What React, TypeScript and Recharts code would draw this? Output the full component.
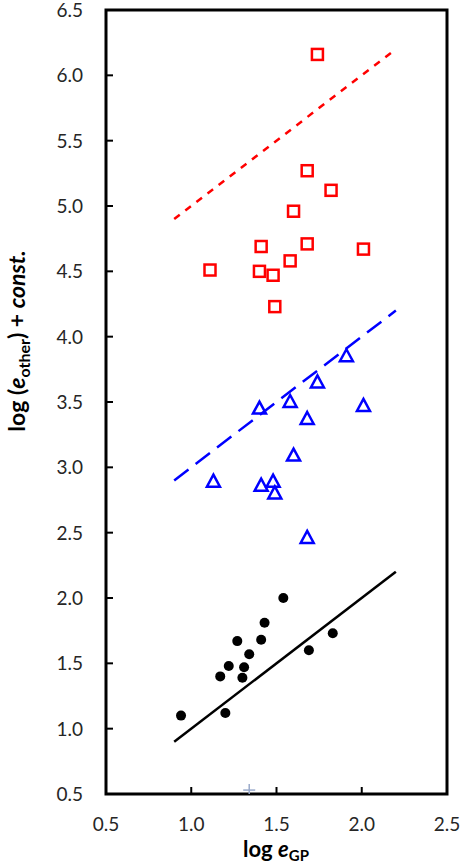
import React from "react";
import {
  ScatterChart,
  Scatter,
  XAxis,
  YAxis,
  ReferenceArea,
  Label,
} from "recharts";

// marker data
const circlePts = [
  { x: 0.94, y: 1.1 },
  { x: 1.2, y: 1.12 },
  { x: 1.17, y: 1.4 },
  { x: 1.22, y: 1.48 },
  { x: 1.27, y: 1.67 },
  { x: 1.3, y: 1.39 },
  { x: 1.31, y: 1.47 },
  { x: 1.34, y: 1.57 },
  { x: 1.41, y: 1.68 },
  { x: 1.43, y: 1.81 },
  { x: 1.54, y: 2.0 },
  { x: 1.69, y: 1.6 },
  { x: 1.83, y: 1.73 },
];

const trianglePts = [
  { x: 1.91, y: 3.85 },
  { x: 1.74, y: 3.65 },
  { x: 1.58, y: 3.5 },
  { x: 1.4, y: 3.45 },
  { x: 2.01, y: 3.47 },
  { x: 1.68, y: 3.37 },
  { x: 1.6, y: 3.09 },
  { x: 1.13, y: 2.89 },
  { x: 1.41, y: 2.86 },
  { x: 1.48, y: 2.89 },
  { x: 1.49, y: 2.8 },
  { x: 1.68, y: 2.46 },
];

const squarePts = [
  { x: 1.74, y: 6.16 },
  { x: 1.68, y: 5.27 },
  { x: 1.82, y: 5.12 },
  { x: 1.6, y: 4.96 },
  { x: 1.41, y: 4.69 },
  { x: 1.68, y: 4.71 },
  { x: 2.01, y: 4.67 },
  { x: 1.11, y: 4.51 },
  { x: 1.4, y: 4.5 },
  { x: 1.48, y: 4.47 },
  { x: 1.58, y: 4.58 },
  { x: 1.49, y: 4.23 },
];

const blackFit = [
  { x: 0.9, y: 0.9 },
  { x: 2.2, y: 2.2 },
];
const blueFit = [
  { x: 0.9, y: 2.9 },
  { x: 2.2, y: 4.2 },
];
const redFit = [
  { x: 0.9, y: 4.9 },
  { x: 2.2, y: 6.2 },
];

const crossPt = [{ x: 1.34, y: 0.53 }];

const xTicks = [0.5, 1.0, 1.5, 2.0, 2.5];
const yTicks = [0.5, 1.0, 1.5, 2.0, 2.5, 3.0, 3.5, 4.0, 4.5, 5.0, 5.5, 6.0, 6.5];

const font = "Lato, 'Noto Sans', sans-serif";
const tickColor = "#262626";

const XTick = ({ x, y, payload }: any) => (
  <g>
    <line x1={x} x2={x} y1={y} y2={y - 7} stroke="#000" strokeWidth={2} />
    <text x={x} y={y + 37} textAnchor="middle" fontSize={19} fontFamily={font} fill={tickColor}>
      {Number(payload.value).toFixed(1)}
    </text>
  </g>
);

const YTick = ({ x, y, payload }: any) => (
  <g>
    <line x1={x} x2={x + 7} y1={y} y2={y} stroke="#000" strokeWidth={2} />
    <text x={x - 23} y={y + 7} textAnchor="end" fontSize={19} fontFamily={font} fill={tickColor}>
      {Number(payload.value).toFixed(1)}
    </text>
  </g>
);

const Circle = ({ cx, cy }: any) => <circle cx={cx} cy={cy} r={5} fill="#000" />;

const Square = ({ cx, cy }: any) => (
  <rect x={cx - 5.5} y={cy - 5.5} width={11} height={11} fill="none" stroke="#ff0000" strokeWidth={2.5} />
);

const Triangle = ({ cx, cy }: any) => (
  <polygon
    points={`${cx},${cy - 7} ${cx + 6.5},${cy + 5} ${cx - 6.5},${cy + 5}`}
    fill="none"
    stroke="#0000ff"
    strokeWidth={2.5}
    strokeLinejoin="miter"
  />
);

const Cross = ({ cx, cy }: any) => (
  <g stroke="#9aaacb" strokeWidth={1.5}>
    <line x1={cx - 6} x2={cx + 6} y1={cy} y2={cy} />
    <line x1={cx} x2={cx} y1={cy - 6} y2={cy + 6} />
  </g>
);

const NoDot = () => <g />;

const XLabel = () => (
  <text x={276} y={857} textAnchor="middle" fontSize={22} fontWeight="bold" fontFamily={font} fill="#000">
    log <tspan fontStyle="italic">e</tspan>
    <tspan fontSize={15} dy={4}>GP</tspan>
  </text>
);

const YLabel = () => (
  <text
    x={0}
    y={0}
    transform="translate(25,341) rotate(-90)"
    textAnchor="middle"
    fontSize={23}
    fontWeight="bold"
    fontFamily={font}
    fill="#000"
  >
    log (<tspan fontStyle="italic">e</tspan>
    <tspan fontSize={16} dy={5}>other</tspan>
    <tspan dy={-5}>) + </tspan>
    <tspan fontStyle="italic">const.</tspan>
  </text>
);

export default function App() {
  return (
    <div style={{ position: "absolute", left: 0, top: 0, width: 463, height: 864, background: "#fff" }}>
      <ScatterChart width={463} height={864} margin={{ top: 10, right: 16, bottom: 0, left: 0 }}>
        <XAxis
          type="number"
          dataKey="x"
          domain={[0.5, 2.5]}
          ticks={xTicks}
          allowDataOverflow
          axisLine={false}
          tickLine={false}
          tickSize={0}
          tickMargin={0}
          height={70}
          tick={(p: any) => <XTick {...p} />}
        >
          <Label content={XLabel} />
        </XAxis>
        <YAxis
          type="number"
          dataKey="y"
          domain={[0.5, 6.5]}
          ticks={yTicks}
          allowDataOverflow
          axisLine={false}
          tickLine={false}
          tickSize={0}
          tickMargin={0}
          width={106}
          tick={(p: any) => <YTick {...p} />}
        >
          <Label content={YLabel} />
        </YAxis>
        <Scatter
          data={blackFit}
          line={{ stroke: "#000", strokeWidth: 2.5 }}
          lineType="joint"
          shape={NoDot}
          isAnimationActive={false}
        />
        <Scatter
          data={blueFit}
          line={{ stroke: "#0000ff", strokeWidth: 2.5, strokeDasharray: "18 9" }}
          lineType="joint"
          shape={NoDot}
          isAnimationActive={false}
        />
        <Scatter
          data={redFit}
          line={{ stroke: "#ff0000", strokeWidth: 2.5, strokeDasharray: "7 7" }}
          lineType="joint"
          shape={NoDot}
          isAnimationActive={false}
        />
        <Scatter data={circlePts} shape={Circle} isAnimationActive={false} />
        <Scatter data={trianglePts} shape={Triangle} isAnimationActive={false} />
        <Scatter data={squarePts} shape={Square} isAnimationActive={false} />
        <Scatter data={crossPt} shape={Cross} isAnimationActive={false} />
        <ReferenceArea x1={0.5} x2={2.5} y1={0.5} y2={6.5} fill="none" stroke="#000" strokeWidth={3} />
      </ScatterChart>
    </div>
  );
}
